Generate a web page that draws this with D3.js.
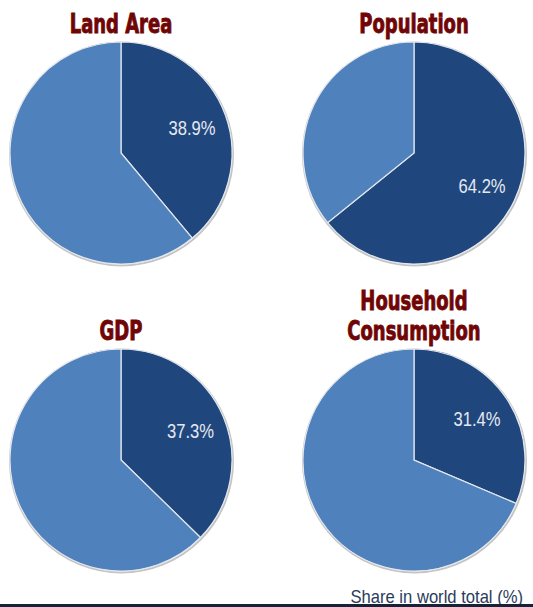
<html lang="en">
<head>
<script src="https://cdn.jsdelivr.net/npm/d3@7"></script>
<style>
body{margin:0;background:#fff;}
svg{display:block;}
</style>
</head>
<body>
<div id="drawarea"></div>
<script>
// chart values
const titles=[["Land Area"],["Population"],["GDP"],["Household","Consumption"]]
const shares=[38.9,64.2,37.3,31.4]
const footnote="Share in world total (%)"

const W=533,H=607
const R=111
const colX=[121,414]
const rowY=[153,460]

const svg=d3.select("#drawarea").append("svg").attr("width",W).attr("height",H)

const pie=d3.pie().sort(null).value(d=>d)
const arc=d3.arc().innerRadius(0).outerRadius(R)
const labelArc=d3.arc().innerRadius(R*0.68).outerRadius(R*0.68)
const colors=["#1f477e","#4f81bd"]

shares.forEach((v,i)=>{
let cx=colX[i%2],cy=rowY[Math.floor(i/2)]
let g=svg.append("g").attr("transform","translate("+cx+","+cy+")")
// soft outline round the pie
g.append("circle").attr("cx",0.5).attr("cy",1).attr("r",R+0.5).style("fill","none").style("stroke","#c4c4c4").style("stroke-width",2)
let arcs=pie([v,100-v])
g.selectAll("path").data(arcs).enter().append("path")
  .attr("d",arc)
  .style("fill",(d,j)=>colors[j])
  .style("stroke","#e4e8ee").style("stroke-width",1.2)
let c=labelArc.centroid(arcs[0])
g.append("text").attr("transform","translate("+c[0]+","+c[1]+") scale(0.79,1)").attr("dy","0.35em")
  .style("text-anchor","middle").style("font-family","Liberation Sans, Arial, sans-serif")
  .style("font-size","21px").style("fill","#e6e9ef")
  .text(v.toFixed(1)+"%")
// title
let t=titles[i]
t.forEach((line,k)=>{
  let base=cy-R-9-(t.length-1-k)*30
  svg.append("text").attr("transform","translate("+cx+","+base+") scale(0.74,1)")
    .style("text-anchor","middle")
    .style("font-family","'DejaVu Sans Condensed',sans-serif")
    .style("font-weight","bold").style("font-size","27px")
    .style("fill","#700505").style("stroke","#700505").style("stroke-width",0.9)
    .text(line)
})
})

svg.append("text").attr("transform","translate(523,603) scale(0.95,1)").style("text-anchor","end")
  .style("font-family","Liberation Sans, Arial, sans-serif").style("font-size","17.5px")
  .style("fill","#2b3b5c").text(footnote)
svg.append("rect").attr("x",0).attr("y",604).attr("width",W).attr("height",3).style("fill","#16223a")
</script>
</body>
</html>
